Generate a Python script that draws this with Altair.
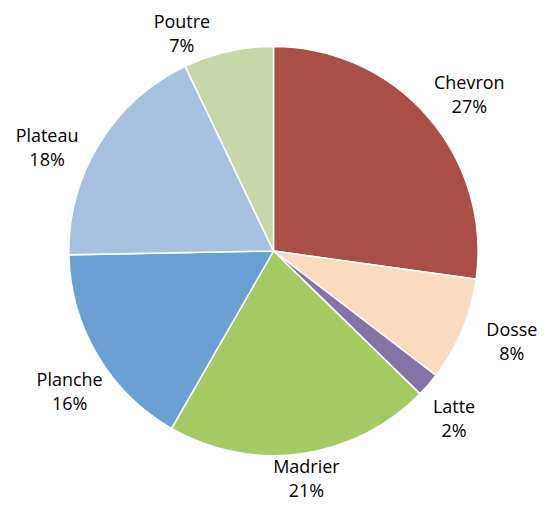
import altair as alt
import pandas as pd

categories = ["Chevron", "Dosse", "Latte", "Madrier", "Planche", "Plateau", "Poutre"]
values = [27.2, 8.2, 1.9, 21.0, 16.4, 18.2, 7.1]
labels = ["Chevron\n27%", "Dosse\n8%", "Latte\n2%", "Madrier\n21%", "Planche\n16%", "Plateau\n18%", "Poutre\n7%"]
colors = ["#A94F47", "#FADBC0", "#8573A8", "#A4CB63", "#6AA0D4", "#A6C2E0", "#C8D7A9"]

# label layout (radius in px, angular nudge in value units)
label_radius = [252, 255, 246, 229, 247, 250, 238]
label_nudge = [0.6, -0.6, 0.5, -0.1, -1.0, -1.9, -2.75]

df = pd.DataFrame({
    "cat": categories,
    "val": values,
    "label": labels,
    "order": list(range(len(categories))),
    "lr": label_radius,
    "nudge": label_nudge,
})

total = sum(values)

base = alt.Chart(df).transform_window(
    end="sum(val)", sort=[alt.SortField("order")], frame=[None, 0]
).transform_calculate(
    start="datum.end - datum.val",
    mid="datum.end - datum.val / 2 + datum.nudge",
)

theta_scale = alt.Scale(domain=[0, total])

arcs = base.mark_arc(outerRadius=205, stroke="white", strokeWidth=1.5).encode(
    theta=alt.Theta("start:Q", scale=theta_scale, stack=False),
    theta2="end:Q",
    color=alt.Color("cat:N", scale=alt.Scale(domain=categories, range=colors), legend=None),
)

text = base.mark_text(
    font="Open Sans", fontSize=18, lineBreak="\n", lineHeight=24, dy=-9,
    align="center", baseline="middle", color="black"
).encode(
    theta=alt.Theta("mid:Q", scale=theta_scale, stack=False),
    text="label:N",
    radius=alt.Radius("lr:Q", scale=None),
)

chart = (arcs + text).properties(
    width=532, height=486, padding=0,
    autosize=alt.AutoSizeParams(type="pad"),
).configure_view(stroke=None)

chart.save("out.html", embed_options={"renderer": "svg", "actions": False})
